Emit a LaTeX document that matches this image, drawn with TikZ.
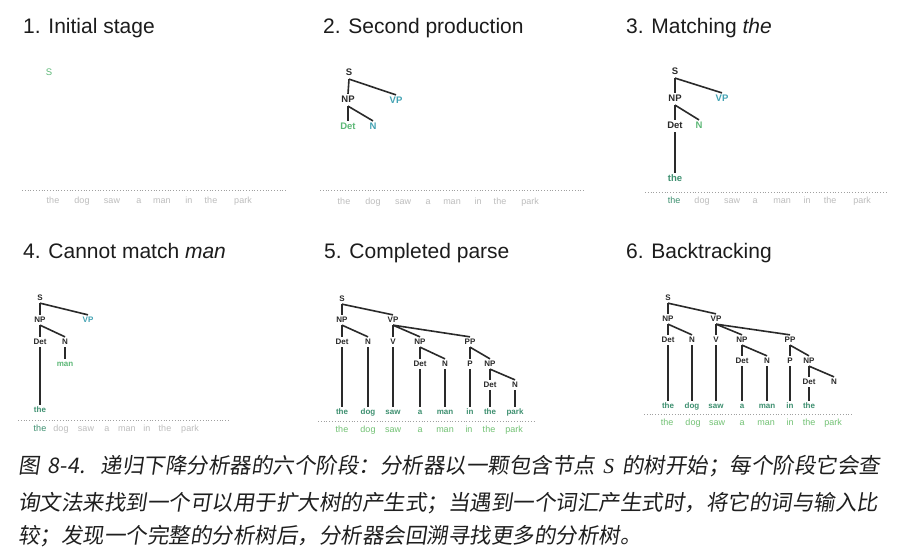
\documentclass[tikz,border=0pt]{standalone}
\usepackage{fontspec}
\setmainfont{Liberation Sans}
\newfontfamily\cjk{Noto Sans CJK SC}[FakeSlant=0.15]
\XeTeXlinebreaklocale "zh"
\XeTeXlinebreakskip=0pt plus 3pt
\definecolor{ink}{HTML}{2A2A2A}
\definecolor{titlec}{HTML}{1C1C1C}
\definecolor{grn}{HTML}{5DB877}
\definecolor{teal}{HTML}{42A2B3}
\definecolor{wgrn}{HTML}{3E9070}
\definecolor{lgrn}{HTML}{72C274}
\definecolor{gry}{HTML}{BDBDBD}
\definecolor{dotc}{HTML}{A0A0A0}
\begin{document}
\begin{tikzpicture}[x=1pt,y=-1pt,
  ttl/.style={anchor=base west, font=\fontsize{21}{21}\selectfont, text=titlec, inner sep=0pt},
  lbA/.style={font=\bfseries\fontsize{9.5}{9.5}\selectfont, text=ink, inner sep=1.3pt, text height=7.2pt, text depth=2pt},
  lbB/.style={font=\bfseries\fontsize{8}{8}\selectfont, text=ink, inner sep=1pt, text height=6.2pt, text depth=1.7pt},
  edge/.style={draw=ink, line width=1.6pt},
  dotsline/.style={draw=dotc, dotted, line width=0.8pt},
  wd/.style={font=\fontsize{9}{9}\selectfont, text=gry, inner sep=0.5pt, text height=6.5pt, text depth=2pt},
  captxt/.style={anchor=base west, inner sep=0pt, font=\cjk\fontsize{21.5}{21.5}\selectfont, text=black!88}
]
\fill[white] (0,0) rectangle (900,552);
\useasboundingbox (0,0) rectangle (900,552);

% ---------- titles
\node[ttl] (t1) at (23,33) {1. Initial stage};
\node[ttl] (t2) at (323,33) {2. Second production};
\node[ttl] (t3) at (626,33) {3. Matching \textit{the}};
\node[ttl] (t4) at (23,258) {4. Cannot match \textit{man}};
\node[ttl] (t5) at (324,258) {5. Completed parse};
\node[ttl] (t6) at (626,258) {6. Backtracking};

% ---------- panel 1
\node[lbA,font=\fontsize{9.5}{9.5}\selectfont,text=grn] (p1S) at (49,73) {S};
\draw[dotsline] (22,190) -- (287,190);
\foreach \w/\x [count=\i] in {the/53,dog/82,saw/112,a/139,man/162,in/189,the/211,park/243}
  \node[wd] (p1w\i) at (\x,201) {\w};

% ---------- panel 2
\node[lbA] (p2S) at (349,73) {S};
\node[lbA] (p2NP) at (348,100) {NP};
\node[lbA,text=teal] (p2VP) at (396,101) {VP};
\node[lbA,text=grn] (p2Det) at (348,127) {Det};
\node[lbA,text=teal] (p2N) at (373,127) {N};
\draw[edge] (p2S.south) -- (p2NP.north);
\draw[edge] (p2S.south) -- (p2VP.north);
\draw[edge] (p2NP.south) -- (p2Det.north);
\draw[edge] (p2NP.south) -- (p2N.north);
\draw[dotsline] (320,190) -- (585,190);
\foreach \w/\x [count=\i] in {the/344,dog/373,saw/403,a/428,man/452,in/478,the/500,park/530}
  \node[wd] (p2w\i) at (\x,202) {\w};

% ---------- panel 3
\node[lbA] (p3S) at (675,72) {S};
\node[lbA] (p3NP) at (675,99) {NP};
\node[lbA,text=teal] (p3VP) at (722,99) {VP};
\node[lbA] (p3Det) at (675,126) {Det};
\node[lbA,text=grn] (p3N) at (699,126) {N};
\node[lbA,text=wgrn] (p3the) at (675,179) {the};
\draw[edge] (p3S.south) -- (p3NP.north);
\draw[edge] (p3S.south) -- (p3VP.north);
\draw[edge] (p3NP.south) -- (p3Det.north);
\draw[edge] (p3NP.south) -- (p3N.north);
\draw[edge] (p3Det.south) -- (p3the.north);
\draw[dotsline] (645,192) -- (888,192);
\node[wd,text=wgrn] (p3w1) at (674,201) {the};
\foreach \w/\x [count=\i from 2] in {dog/702,saw/732,a/755,man/782,in/807,the/830,park/862}
  \node[wd] (p3w\i) at (\x,201) {\w};

% ---------- panel 4
\node[lbB] (p4S) at (40,298) {S};
\node[lbB] (p4NP) at (40,320) {NP};
\node[lbB,text=teal] (p4VP) at (88,320) {VP};
\node[lbB] (p4Det) at (40,342) {Det};
\node[lbB] (p4N) at (65,342) {N};
\node[lbB,text=grn] (p4man) at (65,364) {man};
\node[lbB,text=wgrn] (p4the) at (40,410) {the};
\draw[edge] (p4S.south) -- (p4NP.north);
\draw[edge] (p4S.south) -- (p4VP.north);
\draw[edge] (p4NP.south) -- (p4Det.north);
\draw[edge] (p4NP.south) -- (p4N.north);
\draw[edge] (p4N.south) -- (p4man.north);
\draw[edge] (p4Det.south) -- (p4the.north);
\draw[dotsline] (18,420) -- (230,420);
\node[wd,text=wgrn] (p4w1) at (40,429) {the};
\foreach \w/\x [count=\i from 2] in {dog/61,saw/86,a/107,man/127,in/147,the/165,park/190}
  \node[wd] (p4w\i) at (\x,429) {\w};

% ---------- panel 5
\node[lbB] (p5S) at (342,299) {S};
\node[lbB] (p5NP) at (342,320) {NP};
\node[lbB] (p5VP) at (393,320) {VP};
\node[lbB] (p5Det) at (342,342) {Det};
\node[lbB] (p5N) at (368,342) {N};
\node[lbB] (p5V) at (393,342) {V};
\node[lbB] (p5NPb) at (420,342) {NP};
\node[lbB] (p5PP) at (470,342) {PP};
\node[lbB] (p5Detb) at (420,364) {Det};
\node[lbB] (p5Nb) at (445,364) {N};
\node[lbB] (p5P) at (470,364) {P};
\node[lbB] (p5NPc) at (490,364) {NP};
\node[lbB] (p5Detc) at (490,385) {Det};
\node[lbB] (p5Nc) at (515,385) {N};
\foreach \w/\x/\n in {the/342/a,dog/368/b,saw/393/c,a/420/d,man/445/e,in/470/f,the/490/g,park/515/h}
  \node[lbB,text=wgrn] (p5l\n) at (\x,412) {\w};
\draw[edge] (p5S.south) -- (p5NP.north);
\draw[edge] (p5S.south) -- (p5VP.north);
\draw[edge] (p5NP.south) -- (p5Det.north);
\draw[edge] (p5NP.south) -- (p5N.north);
\draw[edge] (p5VP.south) -- (p5V.north);
\draw[edge] (p5VP.south) -- (p5NPb.north);
\draw[edge] (p5VP.south) -- (p5PP.north);
\draw[edge] (p5NPb.south) -- (p5Detb.north);
\draw[edge] (p5NPb.south) -- (p5Nb.north);
\draw[edge] (p5PP.south) -- (p5P.north);
\draw[edge] (p5PP.south) -- (p5NPc.north);
\draw[edge] (p5NPc.south) -- (p5Detc.north);
\draw[edge] (p5NPc.south) -- (p5Nc.north);
\draw[edge] (p5Det.south) -- (p5la.north);
\draw[edge] (p5N.south) -- (p5lb.north);
\draw[edge] (p5V.south) -- (p5lc.north);
\draw[edge] (p5Detb.south) -- (p5ld.north);
\draw[edge] (p5Nb.south) -- (p5le.north);
\draw[edge] (p5P.south) -- (p5lf.north);
\draw[edge] (p5Detc.south) -- (p5lg.north);
\draw[edge] (p5Nc.south) -- (p5lh.north);
\draw[dotsline] (318,421) -- (535,421);
\foreach \w/\x [count=\i] in {the/342,dog/368,saw/393,a/420,man/445,in/469,the/489,park/514}
  \node[wd,text=lgrn] (p5w\i) at (\x,430) {\w};

% ---------- panel 6
\node[lbB] (p6S) at (668,298) {S};
\node[lbB] (p6NP) at (668,319) {NP};
\node[lbB] (p6VP) at (716,319) {VP};
\node[lbB] (p6Det) at (668,340) {Det};
\node[lbB] (p6N) at (692,340) {N};
\node[lbB] (p6V) at (716,340) {V};
\node[lbB] (p6NPb) at (742,340) {NP};
\node[lbB] (p6PP) at (790,340) {PP};
\node[lbB] (p6Detb) at (742,361) {Det};
\node[lbB] (p6Nb) at (767,361) {N};
\node[lbB] (p6P) at (790,361) {P};
\node[lbB] (p6NPc) at (809,361) {NP};
\node[lbB] (p6Detc) at (809,382) {Det};
\node[lbB] (p6Nc) at (834,382) {N};
\foreach \w/\x/\n in {the/668/a,dog/692/b,saw/716/c,a/742/d,man/767/e,in/790/f,the/809/g}
  \node[lbB,text=wgrn] (p6l\n) at (\x,406) {\w};
\draw[edge] (p6S.south) -- (p6NP.north);
\draw[edge] (p6S.south) -- (p6VP.north);
\draw[edge] (p6NP.south) -- (p6Det.north);
\draw[edge] (p6NP.south) -- (p6N.north);
\draw[edge] (p6VP.south) -- (p6V.north);
\draw[edge] (p6VP.south) -- (p6NPb.north);
\draw[edge] (p6VP.south) -- (p6PP.north);
\draw[edge] (p6NPb.south) -- (p6Detb.north);
\draw[edge] (p6NPb.south) -- (p6Nb.north);
\draw[edge] (p6PP.south) -- (p6P.north);
\draw[edge] (p6PP.south) -- (p6NPc.north);
\draw[edge] (p6NPc.south) -- (p6Detc.north);
\draw[edge] (p6NPc.south) -- (p6Nc.north);
\draw[edge] (p6Det.south) -- (p6la.north);
\draw[edge] (p6N.south) -- (p6lb.north);
\draw[edge] (p6V.south) -- (p6lc.north);
\draw[edge] (p6Detb.south) -- (p6ld.north);
\draw[edge] (p6Nb.south) -- (p6le.north);
\draw[edge] (p6P.south) -- (p6lf.north);
\draw[edge] (p6Detc.south) -- (p6lg.north);
\draw[dotsline] (644,414) -- (852,414);
\foreach \w/\x [count=\i] in {the/667,dog/693,saw/717,a/742,man/766,in/790,the/809,park/833}
  \node[wd,text=lgrn] (p6w\i) at (\x,423) {\w};

% ---------- caption
\node[captxt] (c1) at (18,473) {\makebox[862pt][s]{图 8-4. 递归下降分析器的六个阶段：分析器以一颗包含节点 \textit{\fontspec{Liberation Serif}S} 的树开始；每个阶段它会查}};
\node[captxt] (c2) at (18,510) {\makebox[862pt][s]{询文法来找到一个可以用于扩大树的产生式；当遇到一个词汇产生式时，将它的词与输入比}};
\node[captxt] (c3) at (18,543) {较；发现一个完整的分析树后，分析器会回溯寻找更多的分析树。};
\end{tikzpicture}
\end{document}
